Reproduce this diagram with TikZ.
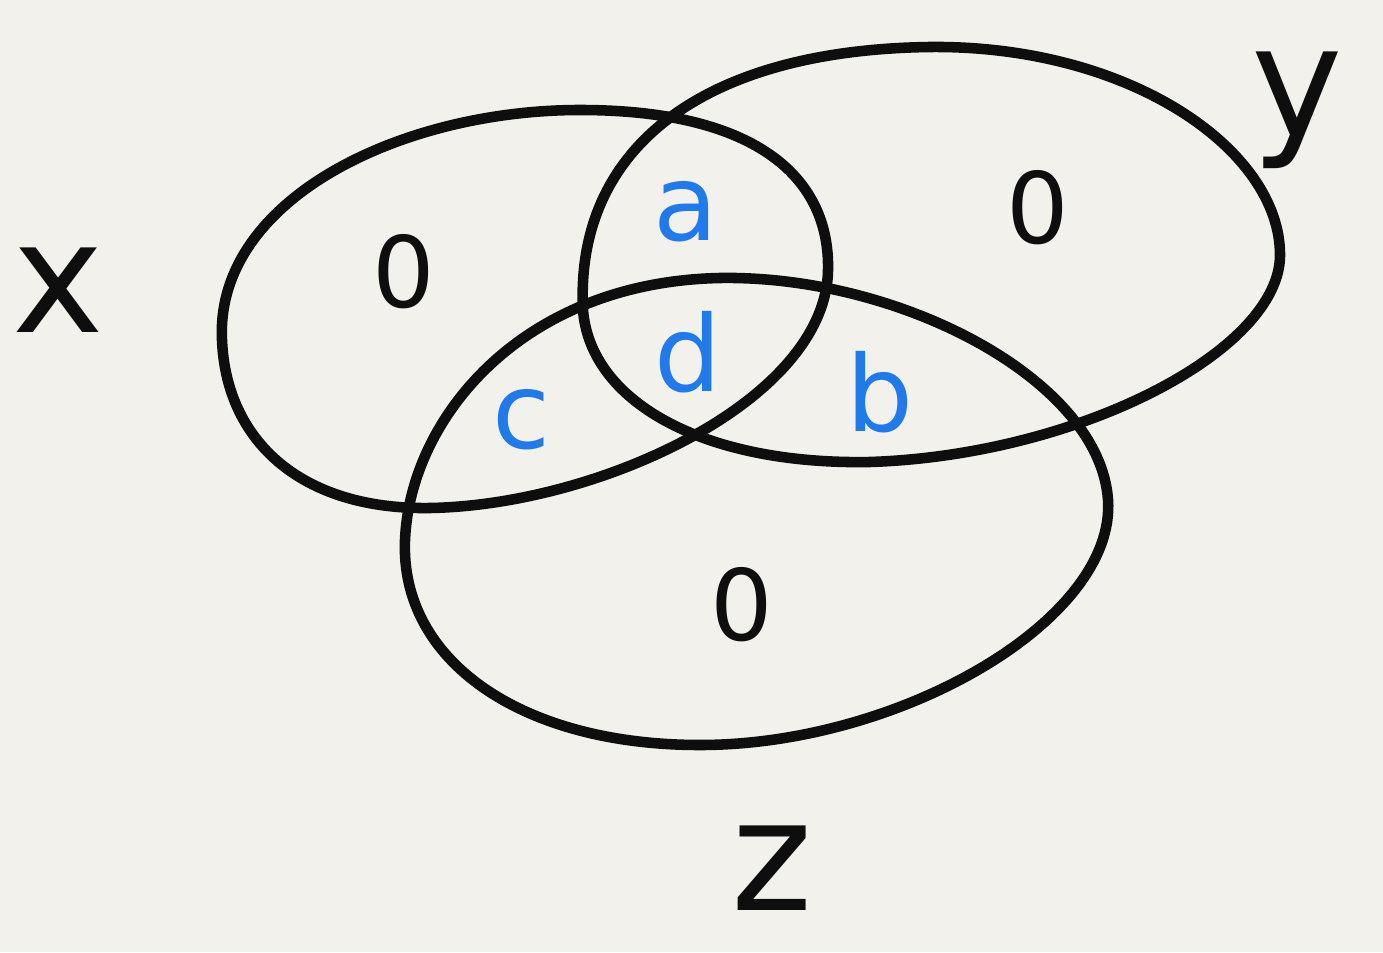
\documentclass[tikz,border=0pt]{standalone}
\usepackage{fontspec}
\setmainfont{DejaVu Sans}
\definecolor{paper}{HTML}{F3F1EC}
\definecolor{ink}{HTML}{0E0E0E}
\definecolor{blueink}{HTML}{1F7AEE}
\begin{document}
\begin{tikzpicture}[x=0.01cm,y=-0.01cm,
  setline/.style={draw=ink,line width=3pt,line join=round},
  setname/.style={text=ink,font=\fontsize{44}{50}\selectfont},
  zero/.style={text=ink,font=\fontsize{28}{34}\selectfont},
  region/.style={text=blueink,font=\fontsize{30}{36}\selectfont}]
\fill[paper] (0,0) rectangle (1383,952);
\useasboundingbox (0,0) rectangle (1383,952);
% set X
\draw[setline] (222,340) .. controls (215,200) and (400,110) .. (580,110)
  .. controls (760,110) and (830,180) .. (828,270)
  .. controls (826,400) and (600,505) .. (430,508)
  .. controls (300,510) and (226,440) .. (222,340) -- cycle;
% set Y
\draw[setline] (583,310) .. controls (575,150) and (700,50) .. (930,47)
  .. controls (1130,45) and (1280,150) .. (1280,255)
  .. controls (1280,350) and (1080,455) .. (870,462)
  .. controls (700,465) and (590,400) .. (583,310) -- cycle;
% set Z
\draw[setline] (720,278) .. controls (900,275) and (1100,380) .. (1108,500)
  .. controls (1116,620) and (900,745) .. (700,745)
  .. controls (520,745) and (400,660) .. (405,540)
  .. controls (410,420) and (520,282) .. (720,278) -- cycle;
% set names
\node[setname] (lx) at (58,290) {x};
\node[setname] (ly) at (1297,110) {y};
\node[setname] (lz) at (772,868) {z};
% zeros
\node[zero] (zx) at (404,272) {0};
\node[zero] (zy) at (1038,208) {0};
\node[zero] (zz) at (742,605) {0};
% regions
\node[region] (ra) at (686,212) {a};
\node[region] (rd) at (688,352) {d};
\node[region] (rc) at (521,420) {c};
\node[region] (rb) at (880,392) {b};
\end{tikzpicture}
\end{document}
